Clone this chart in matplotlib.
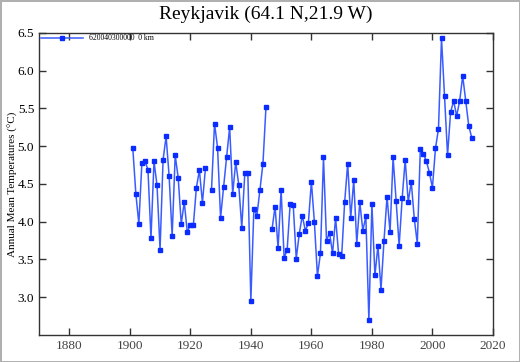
import matplotlib
matplotlib.use("Agg")
import matplotlib.pyplot as plt
import numpy as np

# annual mean temperatures, Reykjavik (None = no data)
anos = list(range(1901, 2014))
temperaturas = [
    4.97, 4.37, 3.97, 4.78, 4.80, 4.69, 3.78, 4.80, 4.48, 3.63,  # 1901-1910
    4.82, 5.13, 4.60, 3.81, 4.88, 4.58, 3.97, 4.26, 3.86, 3.96,  # 1911-1920
    3.95, 4.45, 4.68, 4.25, 4.71, None, 4.42, 5.30, 4.98, 4.05,  # 1921-1930
    4.46, 4.86, 5.25, 4.37, 4.79, 4.49, 3.92, 4.64, 4.65, 2.95,  # 1931-1940
    4.17, 4.08, 4.42, 4.77, 5.52, None, 3.90, 4.20, 3.65, 4.42,  # 1941-1950
    3.52, 3.63, 4.24, 4.22, 3.51, 3.84, 4.08, 3.88, 3.98, 4.53,  # 1951-1960
    3.99, 3.28, 3.58, 4.85, 3.75, 3.85, 3.58, 4.05, 3.57, 3.54,  # 1961-1970
    4.26, 4.77, 4.05, 4.55, 3.71, 4.26, 3.88, 4.07, 2.70, 4.23,  # 1971-1980
    3.29, 3.68, 3.10, 3.75, 4.33, 3.86, 4.85, 4.28, 3.68, 4.31,  # 1981-1990
    4.82, 4.26, 4.53, 4.04, 3.71, 4.96, 4.90, 4.80, 4.65, 4.45,  # 1991-2000
    4.97, 5.23, 6.43, 5.66, 4.88, 5.45, 5.60, 5.40, 5.60, 5.93,  # 2001-2010
    5.60, 5.27, 5.11,                                            # 2011-2013
]
ticks_x = [1880, 1900, 1920, 1940, 1960, 1980, 2000, 2020]
ticks_y = [3.0, 3.5, 4.0, 4.5, 5.0, 5.5, 6.0, 6.5]

valores = np.array([np.nan if t is None else t for t in temperaturas])

plt.rcParams['font.family'] = ['Liberation Serif', 'DejaVu Serif']

fig = plt.figure(figsize=(5.2, 3.62), dpi=100)
fig.patch.set_edgecolor('#b0b0b0')
fig.patch.set_linewidth(2)
ax = fig.add_axes([0.075, 0.075, 0.873, 0.834])

ax.plot(anos, valores, color='#3a5cff', linewidth=1.1, marker='s',
        markersize=3.5, markerfacecolor='#0a2cff', markeredgecolor='#0a2cff',
        label='620040300000  0 km')

ax.set_xlim(1870, 2020)
ax.set_ylim(2.5, 6.5)
ax.set_xticks(ticks_x)
ax.set_yticks(ticks_y)
ax.set_yticklabels([f'{v:.1f}' for v in ticks_y])
ax.tick_params(direction='in', top=True, right=True, labelsize=9.5,
               length=5, width=1, color='#333333')
ax.tick_params(axis='x', labelcolor='#444444')
for lado in ax.spines.values():
    lado.set_color('#333333')
    lado.set_linewidth(1)

ax.set_title('Reykjavik (64.1 N,21.9 W)', fontsize=14, pad=10)
ax.set_ylabel('Annual Mean Temperatures (°C)', fontsize=8)
ax.yaxis.set_label_coords(-0.046, 0.5)

ax.legend(loc='upper left', frameon=False, fontsize=5.5,
          borderaxespad=0.1, handlelength=5.5, handletextpad=0.8,
          borderpad=0.1)

fig.savefig('out.png', dpi=100)
